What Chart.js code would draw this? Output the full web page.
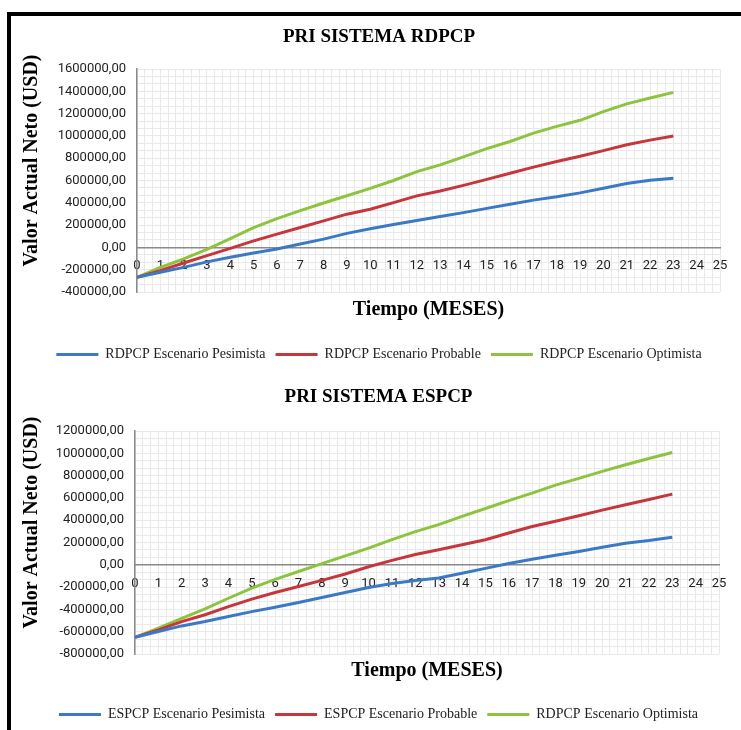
<!DOCTYPE html>
<html>
<head>
<meta charset="utf-8">
<script src="https://cdn.jsdelivr.net/npm/chart.js@4.4.0/dist/chart.umd.min.js"></script>
<style>
  html, body { margin: 0; padding: 0; background: #fff; width: 741px; height: 730px; overflow: hidden; }
  #frame { position: absolute; left: 7px; top: 12px; width: 800px; height: 800px; border: 4px solid #000; box-sizing: border-box; }
  canvas { position: absolute; left: 0; }
  #c1 { top: 0; }
  #c2 { top: 370px; }
</style>
</head>
<body>
<div id="frame"></div>
<canvas id="c1" width="741" height="372"></canvas>
<canvas id="c2" width="741" height="362"></canvas>
<script>
// Months of the evaluation horizon
const months = [0,1,2,3,4,5,6,7,8,9,10,11,12,13,14,15,16,17,18,19,20,21,22,23];

// Net present value (USD), RDPCP system
const rdpcpPesimista = [-268000,-223000,-179000,-130000,-89000,-51000,-15000,30000,74000,126000,168000,206000,242000,278000,312000,350000,387000,424000,454000,489000,530000,573000,603000,620000];
const rdpcpProbable  = [-268000,-208000,-140000,-74000,-9000,58000,119000,179000,238000,298000,342000,402000,462000,506000,556000,610000,665000,720000,770000,817000,868000,920000,962000,1000000];
const rdpcpOptimista = [-268000,-180000,-103000,-18000,78000,178000,258000,330000,398000,463000,530000,600000,680000,740000,812000,886000,950000,1025000,1085000,1140000,1218000,1287000,1340000,1390000];

// Net present value (USD), ESPCP system
const espcpPesimista = [-650000,-598000,-548000,-508000,-463000,-420000,-380000,-338000,-293000,-248000,-203000,-168000,-140000,-118000,-75000,-32000,12000,50000,85000,120000,158000,194000,218000,248000];
const espcpProbable  = [-650000,-583000,-510000,-448000,-375000,-308000,-248000,-194000,-140000,-82000,-18000,40000,92000,135000,180000,225000,285000,344000,390000,440000,490000,538000,585000,634000];
const espcpOptimista = [-650000,-568000,-480000,-395000,-300000,-210000,-130000,-60000,10000,80000,150000,225000,298000,360000,435000,505000,575000,643000,715000,775000,838000,897000,953000,1007000];

const topLabels    = ['RDPCP Escenario Pesimista', 'RDPCP Escenario Probable', 'RDPCP Escenario Optimista'];
const bottomLabels = ['ESPCP Escenario Pesimista', 'ESPCP Escenario Probable', 'RDPCP Escenario Optimista'];

const seriesColors = ['#3a79c6', '#c8353a', '#8cc43e'];
const yStep = 200000;
const xMax = 25;

const fmt = v => v.toFixed(2).replace('.', ',');
const serif = 'Liberation Serif';
const gridColor = '#e9e9e9';
const axisColor = '#8a8a8a';

function pts(values) {
  return months.map((m, i) => ({ x: m, y: values[i] }));
}

function makeChart(id, o) {
  const datasets = o.series.map((vals, i) => ({
    label: o.labels[i],
    data: pts(vals),
    borderColor: seriesColors[i],
    backgroundColor: seriesColors[i],
    borderWidth: 3,
    pointRadius: 0,
    fill: false,
    tension: 0
  }));

  return new Chart(document.getElementById(id), {
    type: 'line',
    data: { datasets },
    options: {
      responsive: false,
      animation: false,
      layout: { padding: { left: 38, right: o.padRight, top: 0, bottom: 0.5 } },
      plugins: {
        tooltip: { enabled: false },
        title: {
          display: true,
          text: o.title,
          color: '#000',
          font: { family: serif, size: 19, weight: 'bold' },
          padding: { top: o.titleTop, bottom: o.titleBottom }
        },
        legend: {
          position: 'bottom',
          labels: {
            usePointStyle: true,
            pointStyle: 'line',
            pointStyleWidth: 42,
            color: '#222',
            font: { family: serif, size: 14 },
            padding: 10
          }
        }
      },
      scales: {
        x: {
          type: 'linear',
          position: { y: 0 },
          min: 0,
          max: xMax,
          afterBuildTicks: s => {
            const t = [];
            for (let k = 0; k <= xMax * 3; k++) t.push({ value: k / 3, lbl: k % 3 === 0 });
            s.ticks = t;
          },
          ticks: {
            autoSkip: false,
            maxRotation: 0,
            padding: 11,
            color: '#222',
            font: { family: 'Roboto', size: 13 },
            callback: (v, i, ticks) => ticks[i].lbl ? String(Math.round(v)) : ''
          },
          grid: { color: gridColor, drawTicks: false },
          border: { color: axisColor, width: 1.5 }
        },
        xt: {
          type: 'linear',
          position: 'bottom',
          min: 0,
          max: xMax,
          display: true,
          grid: { display: false, drawTicks: false },
          border: { display: false },
          ticks: { display: false },
          title: {
            display: true,
            text: 'Tiempo (MESES)',
            color: '#000',
            font: { family: serif, size: 20, weight: 'bold' },
            padding: { top: o.xTitleTop, bottom: o.xTitleBottom }
          }
        },
        y: {
          type: 'linear',
          position: 'left',
          min: o.yMin,
          max: o.yMax,
          afterBuildTicks: s => {
            const t = [];
            for (let k = Math.round(o.yMin * 3 / yStep); k <= Math.round(o.yMax * 3 / yStep); k++) {
              t.push({ value: k * yStep / 3, lbl: k % 3 === 0 });
            }
            s.ticks = t;
          },
          afterFit: s => { s.width = o.yWidth; },
          ticks: {
            autoSkip: false,
            padding: 11,
            color: '#222',
            font: { family: 'Roboto', size: 13 },
            callback: (v, i, ticks) => ticks[i].lbl ? fmt(v) : ''
          },
          grid: { color: gridColor, drawTicks: false },
          border: { color: axisColor, width: 1.5 },
          title: {
            display: true,
            text: '        Valor Actual Neto (USD)',
            color: '#000',
            font: { family: serif, size: 20, weight: 'bold' },
            padding: { top: -18, bottom: 0 }
          }
        }
      }
    }
  });
}

makeChart('c1', {
  title: 'PRI SISTEMA RDPCP',
  labels: topLabels,
  series: [rdpcpPesimista, rdpcpProbable, rdpcpOptimista],
  yMin: -400000, yMax: 1600000,
  yWidth: 99, padRight: 21,
  titleTop: 25.6, titleBottom: 20.6,
  xTitleTop: 6, xTitleBottom: 15.5
});

makeChart('c2', {
  title: 'PRI SISTEMA ESPCP',
  labels: bottomLabels,
  series: [espcpPesimista, espcpProbable, espcpOptimista],
  yMin: -800000, yMax: 1200000,
  yWidth: 97, padRight: 22,
  titleTop: 15.6, titleBottom: 22.6,
  xTitleTop: 5, xTitleBottom: 14.5
});
</script>
</body>
</html>
